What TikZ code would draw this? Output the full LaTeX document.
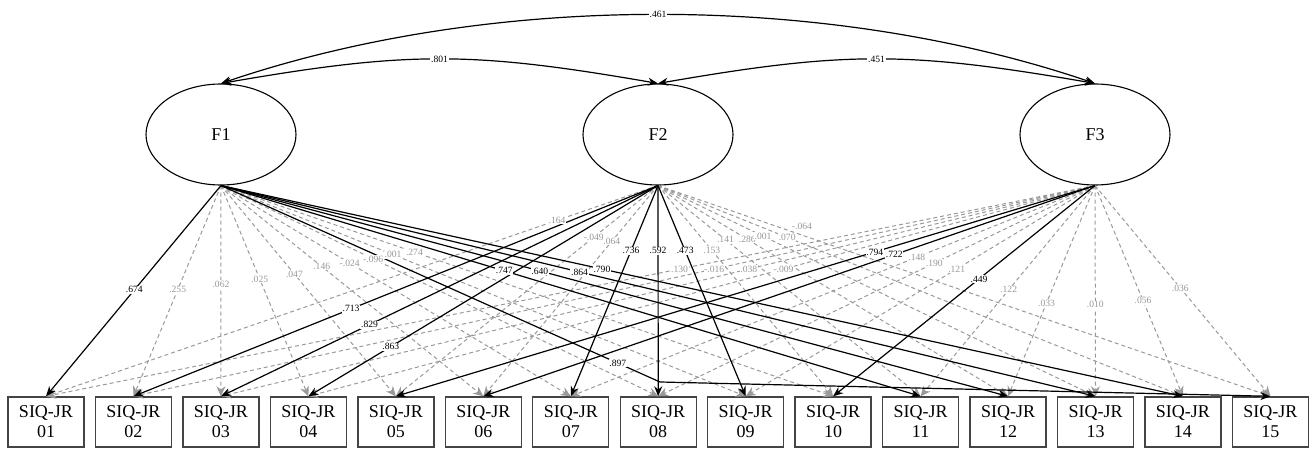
\documentclass[tikz,border=0pt]{standalone}
\usepackage{fontspec}
\setmainfont{Liberation Serif}
\usetikzlibrary{arrows.meta,shapes.geometric}
\definecolor{secgray}{HTML}{999999}
\definecolor{boxgray}{HTML}{444444}
\tikzset{
  lat/.style={ellipse, draw=black, line width=1.1pt, minimum width=150pt, minimum height=101pt, inner sep=0pt, font=\fontsize{18}{20}\selectfont},
  obs/.style={rectangle, draw=boxgray, line width=1.4pt, minimum width=76pt, minimum height=50pt, inner sep=0pt, align=center, font=\fontsize{18}{20}\selectfont},
  pri/.style={draw=black, line width=1.2pt, -{Stealth[length=10pt,width=8pt]}},
  sec/.style={draw=secgray, dash pattern=on 4pt off 3pt, line width=1pt, -{Stealth[length=10pt,width=9pt,fill=secgray]}},
  cov/.style={draw=black, line width=1.2pt, {Stealth[length=10pt,width=8pt]}-{Stealth[length=10pt,width=8pt]}},
  lblp/.style={fill=white, inner sep=0.7pt, font=\fontsize{9.6}{10}\selectfont, text=black},
  lbls/.style={fill=white, inner sep=0.7pt, font=\fontsize{9.6}{10}\selectfont, text=secgray},
}
\newcommand\seclist{
  F1/02/.495/.255, F1/03/.467/.062, F1/04/.443/.025, F1/05/.42/.047, F1/06/.384/.146,
  F1/07/.368/-.024, F1/08/.348/-.096, F1/09/.328/.001, F1/10/.316/.274,
  F2/01/.165/.164, F2/05/.245/-.049, F2/06/.264/.064, F2/10/.307/.153, F2/11/.257/.141,
  F2/12/.255/.286, F2/13/.24/.001, F2/14/.246/.070,
  F3/01/.396/.130, F3/02/.396/-.016, F3/03/.396/.038, F3/04/.396/-.009,
  F3/07/.34/.148, F3/08/.368/.190, F3/09/.396/.121,
  F3/11/.495/.122, F3/12/.557/.033, F3/13/.566/.010, F3/14/.547/.056, F3/15/.486/.036}
\newcommand\prilist{
  F1/01/.495/.674, F1/11/.405/.747, F1/12/.405/.640, F1/13/.41/.864, F1/14/.396/.790,
  F2/02/.585/.713, F2/03/.66/.829, F2/04/.764/.863, F2/07/.31/.736, F2/08/.31/.592, F2/09/.31/.473,
  F3/05/.315/.794, F3/06/.328/.722, F3/10/.443/.449}
\begin{document}
\begin{tikzpicture}[x=1pt,y=-1pt]
\useasboundingbox (0,0) rectangle (1310,449);
% latent factors
\node[lat] (F1) at (221,134.5) {F1};
\node[lat] (F2) at (658,134.5) {F2};
\node[lat] (F3) at (1095,134.5) {F3};
% indicators
\foreach \i [count=\n from 0] in {01,02,03,04,05,06,07,08,09,10,11,12,13,14,15}
  \node[obs] (b\i) at ({46+87.46*\n},422) {SIQ-JR\\\i};
% cross-loadings (dashed)
\foreach \f/\b/\p/\l in \seclist
  \draw[sec] (\f.south) -- (b\b.north);
\draw[sec] (F2.south) -- (b15.north);
% primary loadings (solid)
\foreach \f/\b/\p/\l in \prilist
  \draw[pri] (\f.south) -- (b\b.north);
\coordinate (bend) at (660,382);
\draw[pri] (F1.south) -- node[lblp,pos=.904]{.897} (bend) -- (b15.north);
% labels on top
\foreach \f/\b/\p/\l in \seclist
  \path (\f.south) -- node[lbls,pos=\p]{\l} (b\b.north);
\path (F2.south) -- node[lbls,pos=.235,yshift=9pt]{-.064} (b15.north);
\foreach \f/\b/\p/\l in \prilist
  \path (\f.south) -- node[lblp,pos=\p]{\l} (b\b.north);
% factor correlations
\draw[cov] (F1.north) .. controls (490,-8) and (826,-8) .. node[lblp,pos=.5]{.461} (F3.north);
\draw[cov] (F1.north) .. controls (408,51) and (471,51) .. node[lblp,pos=.5]{.801} (F2.north);
\draw[cov] (F2.north) .. controls (845,51) and (908,51) .. node[lblp,pos=.5]{.451} (F3.north);
\end{tikzpicture}
\end{document}
